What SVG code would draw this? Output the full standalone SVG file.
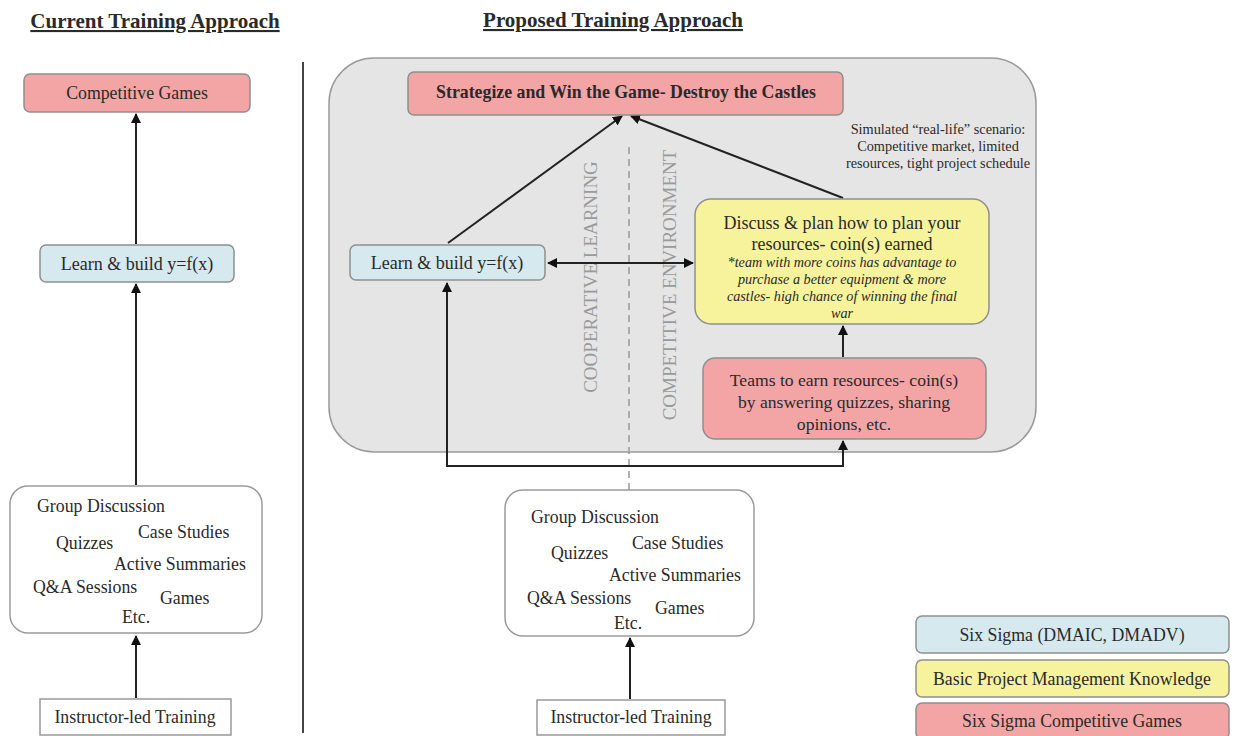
<svg xmlns="http://www.w3.org/2000/svg" width="1233" height="736" viewBox="0 0 1233 736">
<defs>
<style>
text{font-family:"Liberation Serif","Times New Roman",serif;fill:#2a2a2a}
.t15{font-size:17.8px}
.t16{font-size:18px}
.c{text-anchor:middle}
.title{font-size:21px;font-weight:bold;text-decoration:underline}
.pink{fill:#f3a5a5;stroke:#8f8f8f;stroke-width:1.5}
.blue{fill:#d5e9ef;stroke:#8f8f8f;stroke-width:1.5}
.yellow{fill:#f6f39c;stroke:#8f8f8f;stroke-width:1.5}
.white{fill:#fff;stroke:#9a9a9a;stroke-width:1.5}
.conn{fill:none;stroke:#222;stroke-width:2}
.dash{fill:none;stroke:#999;stroke-width:1.5;stroke-dasharray:7 5}
.vert{font-size:19px;fill:#9a9a9a}
.it{font-size:14.2px;font-style:italic}
.sim{font-size:14.3px}
</style>
<marker id="ah" viewBox="0 0 10 10" refX="9" refY="5" markerWidth="5" markerHeight="5" orient="auto-start-reverse" markerUnits="strokeWidth">
<path d="M0,0 L10,5 L0,10 z" fill="#111"/>
</marker>
</defs>
<rect width="1233" height="736" fill="#fff"/>

<text class="title c" x="155" y="28">Current Training Approach</text>
<text class="title c" x="613" y="27">Proposed Training Approach</text>
<line x1="303" y1="62" x2="303" y2="733" stroke="#444" stroke-width="2"/>

<g id="container">
<rect x="329" y="58" width="707" height="394" rx="45" fill="#e5e5e5" stroke="#9a9a9a" stroke-width="1.5"/>
<text x="938" y="134" class="c sim">Simulated “real-life” scenario:</text>
<text x="938" y="151" class="c sim">Competitive market, limited</text>
<text x="938" y="168" class="c sim">resources, tight project schedule</text>
<line class="dash" x1="629" y1="147" x2="629" y2="490"/>
<text class="vert c" transform="translate(597,277) rotate(-90)">COOPERATIVE LEARNING</text>
<text class="vert c" transform="translate(676,285) rotate(-90)">COMPETITIVE ENVIRONMENT</text>
</g>

<g id="connectors">
<line class="conn" x1="136" y1="244" x2="136" y2="114" marker-end="url(#ah)"/>
<line class="conn" x1="136" y1="485" x2="136" y2="284" marker-end="url(#ah)"/>
<line class="conn" x1="136" y1="698" x2="136" y2="636" marker-end="url(#ah)"/>
<line class="conn" x1="448" y1="243" x2="622" y2="116" marker-end="url(#ah)"/>
<line class="conn" x1="843" y1="198" x2="631" y2="116" marker-end="url(#ah)"/>
<line class="conn" x1="548" y1="263" x2="693" y2="263" marker-start="url(#ah)" marker-end="url(#ah)"/>
<line class="conn" x1="843" y1="357" x2="843" y2="326" marker-end="url(#ah)"/>
<polyline class="conn" points="843,466 447,466 447,283" marker-end="url(#ah)"/>
<polyline class="conn" points="447,466 843,466 843,441" marker-end="url(#ah)"/>
<line class="conn" x1="630" y1="699" x2="630" y2="638" marker-end="url(#ah)"/>
</g>

<g id="competitive-games">
<rect class="pink" x="24" y="74" width="226" height="38" rx="6"/>
<text class="t15 c" x="137" y="99">Competitive Games</text>
</g>
<g id="learn-left">
<rect class="blue" x="40" y="245" width="194" height="37" rx="6"/>
<text class="t16 c" x="137" y="270">Learn &amp; build y=f(x)</text>
</g>
<g id="activities-left">
<rect class="white" x="10" y="486" width="252" height="147" rx="18"/>
<text class="t15" x="37" y="512">Group Discussion</text>
<text class="t15" x="138" y="538">Case Studies</text>
<text class="t15" x="56" y="549">Quizzes</text>
<text class="t15" x="114" y="570">Active Summaries</text>
<text class="t15" x="33" y="593">Q&amp;A Sessions</text>
<text class="t15" x="160" y="604">Games</text>
<text class="t15" x="122" y="623">Etc.</text>
</g>
<g id="instructor-left">
<rect x="40" y="699" width="191" height="36" fill="#fff" stroke="#999" stroke-width="1.5"/>
<text class="t15 c" x="135" y="723">Instructor-led Training</text>
</g>

<g id="strategize">
<rect class="pink" x="408" y="72" width="435" height="43" rx="6"/>
<text class="t15 c" x="626" y="98" font-weight="bold">Strategize and Win the Game- Destroy the Castles</text>
</g>
<g id="learn-right">
<rect class="blue" x="350" y="245" width="195" height="35" rx="6"/>
<text class="t16 c" x="447" y="269">Learn &amp; build y=f(x)</text>
</g>
<g id="discuss">
<rect class="yellow" x="695" y="199" width="294" height="125" rx="16"/>
<text class="t16 c" x="842" y="229">Discuss &amp; plan how to plan your</text>
<text class="t16 c" x="842" y="250">resources- coin(s) earned</text>
<text class="it c" x="842" y="267">*team with more coins has advantage to</text>
<text class="it c" x="842" y="284">purchase a better equipment &amp; more</text>
<text class="it c" x="842" y="301">castles- high chance of winning the final</text>
<text class="it c" x="842" y="318">war</text>
</g>
<g id="teams">
<rect class="pink" x="703" y="358" width="283" height="81" rx="12"/>
<text class="c" font-size="17.6" x="844" y="386">Teams to earn resources- coin(s)</text>
<text class="c" font-size="17.6" x="844" y="408">by answering quizzes, sharing</text>
<text class="c" font-size="17.6" x="844" y="430">opinions, etc.</text>
</g>
<g id="activities-right">
<rect class="white" x="505" y="490" width="249" height="146" rx="18"/>
<text class="t15" x="531" y="523">Group Discussion</text>
<text class="t15" x="632" y="549">Case Studies</text>
<text class="t15" x="551" y="559">Quizzes</text>
<text class="t15" x="609" y="581">Active Summaries</text>
<text class="t15" x="527" y="604">Q&amp;A Sessions</text>
<text class="t15" x="655" y="614">Games</text>
<text class="t15" x="614" y="629">Etc.</text>
</g>
<g id="instructor-right">
<rect x="537" y="700" width="188" height="35" fill="#fff" stroke="#999" stroke-width="1.5"/>
<text class="t15 c" x="631" y="723">Instructor-led Training</text>
</g>

<g id="legend">
<rect class="blue" x="916" y="616" width="313" height="37" rx="6"/>
<text class="t15 c" x="1072" y="641">Six Sigma (DMAIC, DMADV)</text>
<rect class="yellow" x="916" y="660" width="313" height="37" rx="6"/>
<text class="t15 c" x="1072" y="685">Basic Project Management Knowledge</text>
<rect class="pink" x="916" y="703" width="313" height="36" rx="6"/>
<text class="t15 c" x="1072" y="727">Six Sigma Competitive Games</text>
</g>
</svg>
